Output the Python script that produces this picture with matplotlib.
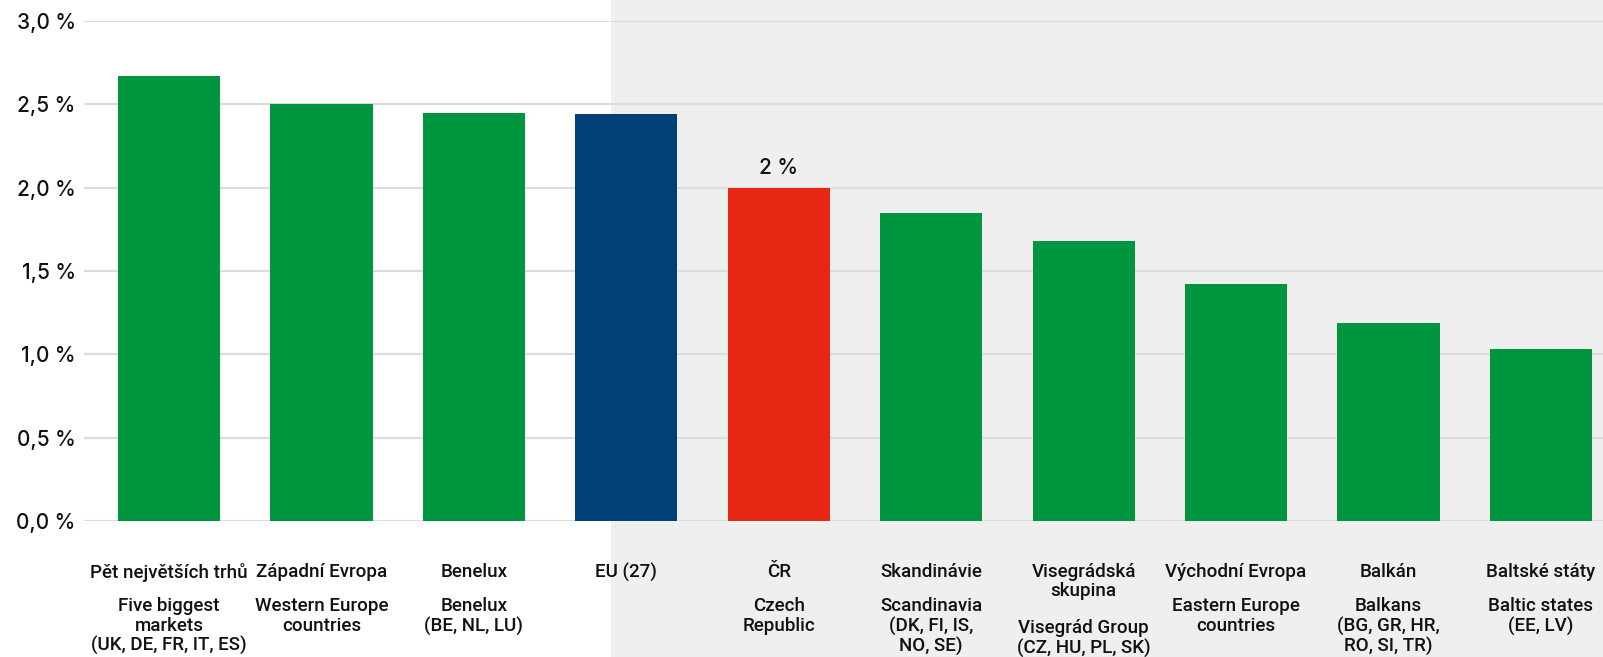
import matplotlib
import matplotlib.pyplot as plt
import numpy as np

matplotlib.use("agg")

# data
labels_cz = [
    "Pět největších trhů",
    "Západní Evropa",
    "Benelux",
    "EU (27)",
    "ČR",
    "Skandinávie",
    "Visegrádská\nskupina",
    "Východní Evropa",
    "Balkán",
    "Baltské státy",
]
labels_en = [
    "Five biggest\nmarkets\n(UK, DE, FR, IT, ES)",
    "Western Europe\ncountries",
    "Benelux\n(BE, NL, LU)",
    "",
    "Czech\nRepublic",
    "Scandinavia\n(DK, FI, IS,\nNO, SE)",
    "Visegrád Group\n(CZ, HU, PL, SK)",
    "Eastern Europe\ncountries",
    "Balkans\n(BG, GR, HR,\nRO, SI, TR)",
    "Baltic states\n(EE, LV)",
]
values = [2.67, 2.50, 2.45, 2.44, 2.00, 1.85, 1.68, 1.42, 1.19, 1.03]
yticks = [0.0, 0.5, 1.0, 1.5, 2.0, 2.5, 3.0]

GREEN = "#009640"
NAVY = "#004077"
RED = "#e52713"
colors = [GREEN] * len(values)
colors[3] = NAVY
colors[4] = RED

fig = plt.figure(figsize=(16.03, 6.57), dpi=100)
ax = fig.add_axes([0.0524, 0.207, 0.9476, 0.761])

x = np.arange(len(values))
ax.axvspan(2.9, 11, ymin=-0.4, ymax=1.2, color="#efefef", clip_on=False, zorder=0, lw=0)
for y in yticks:
    ax.axhline(y, color="#dcdcdc", lw=1.6, zorder=1)
ax.bar(x, values, width=0.67, color=colors, zorder=2)

ax.set_xlim(-0.558, 9.407)
ax.set_ylim(0, 3.0)
ax.set_yticks(yticks)
ax.set_yticklabels([f"{t:.1f} %".replace(".", ",") for t in yticks],
                   fontsize=15, family="Inter", weight="medium", color="#111111")
ax.tick_params(axis="y", length=0, pad=6)
ax.set_xticks([])
for s in ax.spines.values():
    s.set_visible(False)
ax.patch.set_alpha(0)

# value label over the Czech bar
ax.annotate("2 %", xy=(4, values[4]), xytext=(0, 14), textcoords="offset points",
            ha="center", va="center", fontsize=15, family="Inter",
            weight="medium", color="#111111")

lh = 15.8  # line height in points
for i in x:
    ncz = labels_cz[i].count("\n") + 1
    ax.annotate(labels_cz[i], xy=(i, 0), xycoords=("data", "axes fraction"),
                xytext=(0, -30), textcoords="offset points", ha="center", va="top",
                fontsize=13.5, family="Roboto", weight="medium", color="#111111",
                linespacing=1.1)
    ax.annotate(labels_en[i], xy=(i, 0), xycoords=("data", "axes fraction"),
                xytext=(0, -30 - ncz * lh - 9), textcoords="offset points",
                ha="center", va="top", fontsize=13.5, family="Roboto",
                weight="medium", color="#111111", linespacing=1.1)

fig.savefig("out.png", dpi=100)
plt.close(fig)
